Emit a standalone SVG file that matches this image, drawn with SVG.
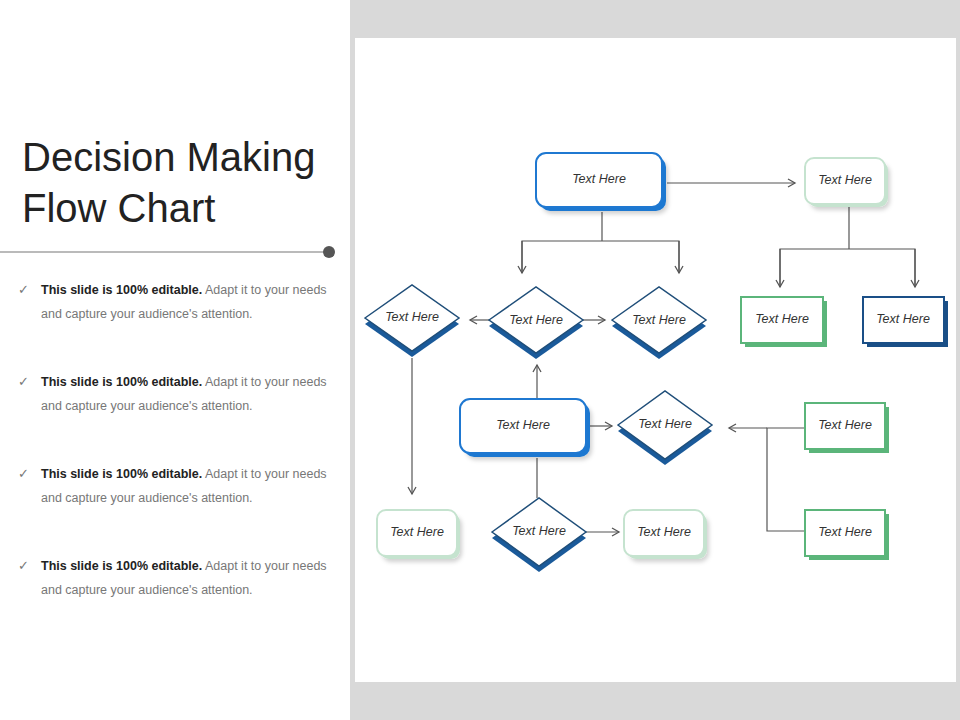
<svg xmlns="http://www.w3.org/2000/svg" width="960" height="720" viewBox="0 0 960 720">
<defs>
<marker id="ah" markerWidth="10" markerHeight="10" refX="8" refY="5" orient="auto" markerUnits="userSpaceOnUse"><path d="M1,1 L8,5 L1,9" fill="none" stroke="#555" stroke-width="1.3"/></marker>
<filter id="sh" x="-20%" y="-20%" width="150%" height="150%"><feDropShadow dx="2" dy="3" stdDeviation="2" flood-color="#000" flood-opacity="0.18"/></filter>
</defs>
<style>
.t{font-family:"Liberation Sans",Arial,sans-serif;font-style:italic;font-size:12.5px;fill:#333;text-anchor:middle;dominant-baseline:middle}
.c{fill:none;stroke:#555;stroke-width:1.2}
.b{font-family:"Liberation Sans",Arial,sans-serif;font-size:12.5px;fill:#777}
.bb{font-weight:bold;fill:#222}
</style>
<rect width="960" height="720" fill="#fff"/>
<rect x="350" y="0" width="610" height="720" fill="#d9d9d9"/>
<rect x="355" y="38" width="601" height="644" fill="#fff"/>
<g id="title" font-family="Liberation Sans,Arial,sans-serif" font-size="40" fill="#222">
<text x="22" y="171">Decision Making</text><text x="22" y="222">Flow Chart</text>
</g>
<line x1="0" y1="252" x2="328" y2="252" stroke="#777" stroke-width="1.2"/>
<circle cx="329" cy="252" r="6" fill="#555"/>
<g id="bullets">
<g><text class="b" x="18" y="294" font-size="11" fill="#333">✓</text><text class="b" x="41" y="294"><tspan class="bb">This slide is 100%  editable.</tspan> Adapt it to your needs</text><text class="b" x="41" y="318">and capture your audience's attention.</text></g>
<g><text class="b" x="18" y="386" font-size="11" fill="#333">✓</text><text class="b" x="41" y="386"><tspan class="bb">This slide is 100%  editable.</tspan> Adapt it to your needs</text><text class="b" x="41" y="410">and capture your audience's attention.</text></g>
<g><text class="b" x="18" y="478" font-size="11" fill="#333">✓</text><text class="b" x="41" y="478"><tspan class="bb">This slide is 100%  editable.</tspan> Adapt it to your needs</text><text class="b" x="41" y="502">and capture your audience's attention.</text></g>
<g><text class="b" x="18" y="570" font-size="11" fill="#333">✓</text><text class="b" x="41" y="570"><tspan class="bb">This slide is 100%  editable.</tspan> Adapt it to your needs</text><text class="b" x="41" y="594">and capture your audience's attention.</text></g>
</g>
<g id="connectors">
<path class="c" d="M667,183 H795" marker-end="url(#ah)"/>
<path class="c" d="M602,212 V241 H522 V273 M602,241 H679 V273" />
<path class="c" d="M522,241 V273" marker-end="url(#ah)"/>
<path class="c" d="M679,241 V273" marker-end="url(#ah)"/>
<path class="c" d="M849,207 V249 H780 V287 M849,249 H915 V287"/>
<path class="c" d="M780,249 V287" marker-end="url(#ah)"/>
<path class="c" d="M915,249 V287" marker-end="url(#ah)"/>
<path class="c" d="M489,320 H470" marker-end="url(#ah)"/>
<path class="c" d="M583,320 H605" marker-end="url(#ah)"/>
<path class="c" d="M412,358 V494" marker-end="url(#ah)"/>
<path class="c" d="M537,398 V365" marker-end="url(#ah)"/>
<path class="c" d="M590,426 H612" marker-end="url(#ah)"/>
<path class="c" d="M805,428 H767 V531 H805"/>
<path class="c" d="M767,428 H729" marker-end="url(#ah)"/>
<path class="c" d="M537,458 V498"/>
<path class="c" d="M586,532 H619" marker-end="url(#ah)"/>
</g>
<g id="n1"><rect x="540" y="157" width="126" height="54" rx="10" fill="#1f78d1" filter="url(#sh)"/><rect x="536" y="153" width="126" height="54" rx="10" fill="#fff" stroke="#1f78d1" stroke-width="2"/><text class="t" x="599" y="180">Text Here</text></g>
<g id="n2"><rect x="808" y="161" width="80" height="46" rx="9" fill="#c5e3cf" filter="url(#sh)"/><rect x="805" y="158" width="80" height="46" rx="9" fill="#fff" stroke="#c5e3cf" stroke-width="2"/><text class="t" x="845" y="181" font-size="11">Text Here</text></g>
<g id="d1"><path d="M365,324 L412,291 L459,324 L412,357Z" fill="#1a5a9a"/><path d="M365,318 L412,285 L459,318 L412,351Z" fill="#fff" stroke="#1f4e79" stroke-width="1.5"/><text class="t" x="412" y="318">Text Here</text></g>
<g id="d2"><path d="M489,326 L536,293 L583,326 L536,359Z" fill="#1a5a9a"/><path d="M489,320 L536,287 L583,320 L536,353Z" fill="#fff" stroke="#1f4e79" stroke-width="1.5"/><text class="t" x="536" y="321">Text Here</text></g>
<g id="d3"><path d="M612,326 L659,293 L706,326 L659,359Z" fill="#1a5a9a"/><path d="M612,320 L659,287 L706,320 L659,353Z" fill="#fff" stroke="#1f4e79" stroke-width="1.5"/><text class="t" x="659" y="321">Text Here</text></g>
<g id="n3"><rect x="745" y="301" width="82" height="46" fill="#5bb57a"/><rect x="741" y="297" width="82" height="46" fill="#fff" stroke="#5bb57a" stroke-width="2"/><text class="t" x="782" y="320">Text Here</text></g>
<g id="n4"><rect x="867" y="301" width="81" height="46" fill="#1a4f87"/><rect x="863" y="297" width="81" height="46" fill="#fff" stroke="#1a4f87" stroke-width="2"/><text class="t" x="903" y="320">Text Here</text></g>
<g id="n5"><rect x="464" y="403" width="126" height="54" rx="10" fill="#1f78d1" filter="url(#sh)"/><rect x="460" y="399" width="126" height="54" rx="10" fill="#fff" stroke="#1f78d1" stroke-width="2"/><text class="t" x="523" y="426">Text Here</text></g>
<g id="d4"><path d="M618,431 L665,398 L712,431 L665,465Z" fill="#1a5a9a"/><path d="M618,425 L665,391 L712,425 L665,459Z" fill="#fff" stroke="#1f4e79" stroke-width="1.5"/><text class="t" x="665" y="425">Text Here</text></g>
<g id="n6"><rect x="809" y="407" width="80" height="46" fill="#5bb57a"/><rect x="805" y="403" width="80" height="46" fill="#fff" stroke="#5bb57a" stroke-width="2"/><text class="t" x="845" y="426">Text Here</text></g>
<g id="n7"><rect x="809" y="514" width="80" height="46" fill="#5bb57a"/><rect x="805" y="510" width="80" height="46" fill="#fff" stroke="#5bb57a" stroke-width="2"/><text class="t" x="845" y="533">Text Here</text></g>
<g id="n8"><rect x="380" y="513" width="80" height="46" rx="9" fill="#c5e3cf" filter="url(#sh)"/><rect x="377" y="510" width="80" height="46" rx="9" fill="#fff" stroke="#c5e3cf" stroke-width="2"/><text class="t" x="417" y="533">Text Here</text></g>
<g id="d5"><path d="M492,538 L539,505 L586,538 L539,572Z" fill="#1a5a9a"/><path d="M492,532 L539,498 L586,532 L539,566Z" fill="#fff" stroke="#1f4e79" stroke-width="1.5"/><text class="t" x="539" y="532">Text Here</text></g>
<g id="n9"><rect x="627" y="513" width="80" height="46" rx="9" fill="#c5e3cf" filter="url(#sh)"/><rect x="624" y="510" width="80" height="46" rx="9" fill="#fff" stroke="#c5e3cf" stroke-width="2"/><text class="t" x="664" y="533">Text Here</text></g>
</svg>
